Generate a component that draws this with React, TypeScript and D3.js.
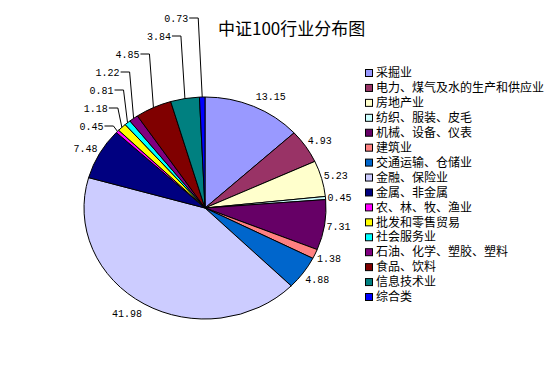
import React from "react";
import * as d3 from "d3";

// 行业名称
const industries = [
  "采掘业",
  "电力、煤气及水的生产和供应业",
  "房地产业",
  "纺织、服装、皮毛",
  "机械、设备、仪表",
  "建筑业",
  "交通运输、仓储业",
  "金融、保险业",
  "金属、非金属",
  "农、林、牧、渔业",
  "批发和零售贸易",
  "社会服务业",
  "石油、化学、塑胶、塑料",
  "食品、饮料",
  "信息技术业",
  "综合类",
];

// 权重 (%)
const weights = [13.15, 4.93, 5.23, 0.45, 7.31, 1.38, 4.88, 41.98, 7.48, 0.45, 1.18, 0.81, 1.22, 4.85, 3.84, 0.73];

const colors = [
  "#9999FF", "#993366", "#FFFFCC", "#CCFFFF", "#660066", "#FF8080", "#0066CC", "#CCCCFF",
  "#000080", "#FF00FF", "#FFFF00", "#00FFFF", "#800080", "#800000", "#008080", "#0000FF",
];

const title = "中证100行业分布图";

const W = 556;
const H = 382;
const cx = 205;
const cy = 208;
const rx = 121;
const ry = 111;

// 从第几块开始使用引导线标注
const leaderStart = 9;

export default function App() {
  const pie = d3.pie<number>().sort(null).value((d) => d)(weights);
  const arc = d3.arc<d3.PieArcDatum<number>>().innerRadius(0).outerRadius(ry);

  const legendY = d3.scaleLinear().domain([0, industries.length - 1]).range([73, 297]);

  const labels = pie.map((p, i) => {
    const mid = (p.startAngle + p.endAngle) / 2;
    const s = Math.sin(mid);
    const c = Math.cos(mid);
    const ex = cx + rx * s;
    const ey = cy - ry * c;
    const text = weights[i].toFixed(2);
    if (i >= leaderStart) {
      const ly = 126 - 18 * (i - leaderStart);
      const elbow = ex - 4;
      return { text, x: elbow - 10, y: ly, anchor: "end", line: `M${elbow - 9},${ly}H${elbow}L${ex},${ey}` };
    }
    return {
      text,
      x: s >= 0 ? ex + 2 : ex - 2,
      y: ey - 11 * c,
      anchor: s >= 0 ? "start" : "end",
      line: null as string | null,
    };
  });

  return (
    <svg width={W} height={H} style={{ position: "absolute", left: 0, top: 0, background: "#fff" }}>
      <text x={218} y={27} dominantBaseline="central" fontFamily="Noto Sans CJK SC" fontSize={17} fill="#000">
        {title}
      </text>

      <g transform={`translate(${cx},${cy}) scale(${rx / ry},1)`}>
        {pie.map((p, i) => (
          <path
            key={i}
            d={arc(p) || ""}
            fill={colors[i]}
            stroke="#000"
            strokeWidth={1}
            vectorEffect="non-scaling-stroke"
          />
        ))}
      </g>

      {labels.map((l, i) => (
        <g key={i}>
          {l.line && <path d={l.line} fill="none" stroke="#000" strokeWidth={1} />}
          <text
            x={l.x}
            y={l.y}
            dy="0.35em"
            textAnchor={l.anchor}
            fontFamily="Liberation Mono"
            fontSize={10}
            fill="#000"
          >
            {l.text}
          </text>
        </g>
      ))}

      <g>
        {industries.map((name, i) => (
          <g key={name} transform={`translate(365,${legendY(i)})`}>
            <rect x={0.5} y={-3.5} width={7} height={7} fill={colors[i]} stroke="#000" strokeWidth={1} />
            <text x={11} y={0} dy="0.35em" fontFamily="Noto Sans CJK SC" fontSize={12} fill="#000">
              {name}
            </text>
          </g>
        ))}
      </g>
    </svg>
  );
}
